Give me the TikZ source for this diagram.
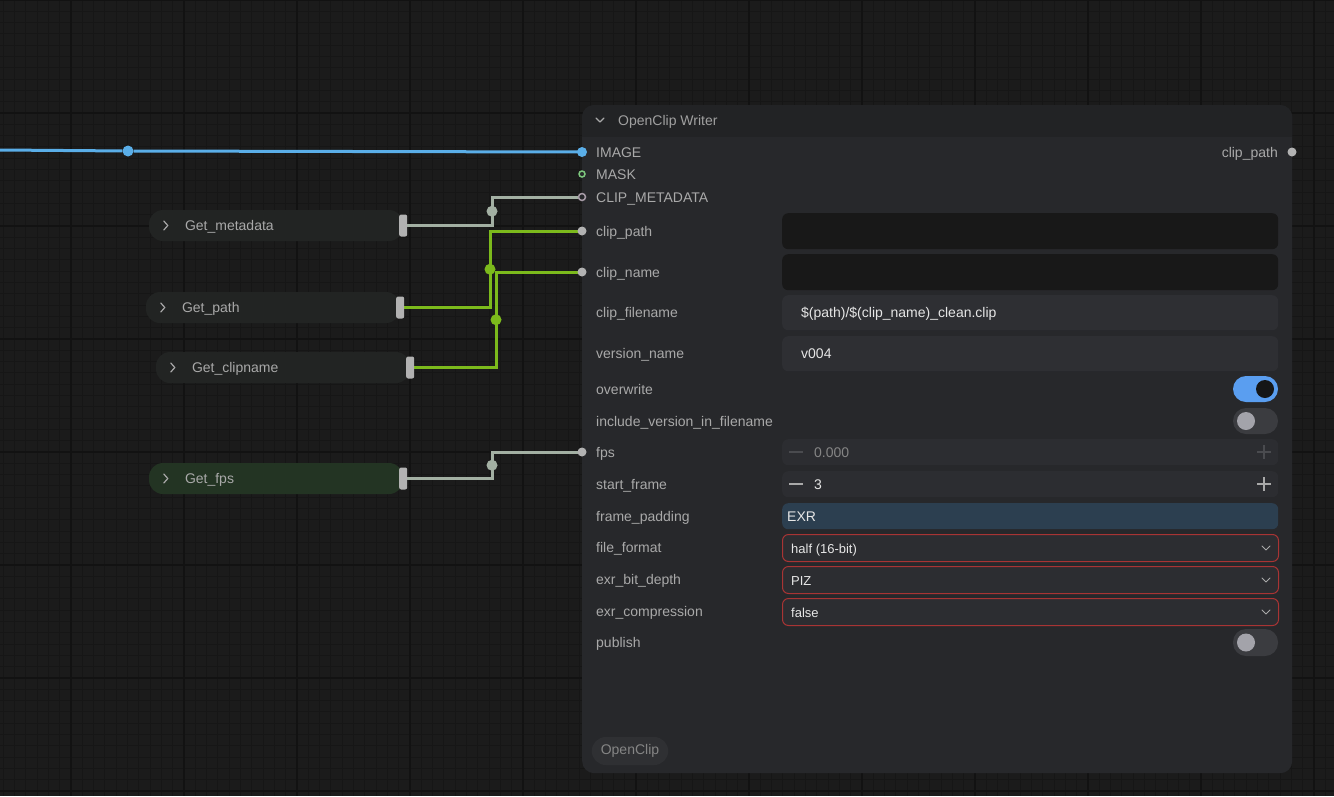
\documentclass[tikz,border=0pt]{standalone}
\usepackage{fontspec}
\setmainfont{Liberation Sans}
\usetikzlibrary{positioning,calc}

\definecolor{canvas}{HTML}{1B1B1B}
\definecolor{gridminor}{HTML}{161616}
\definecolor{gridmajor}{HTML}{121212}
\definecolor{nodebody}{HTML}{27282B}
\definecolor{nodehead}{HTML}{222325}
\definecolor{pillgrey}{HTML}{222423}
\definecolor{pillgreen}{HTML}{233423}
\definecolor{handlegrey}{HTML}{B2B2B2}
\definecolor{labelgrey}{HTML}{A9A9A9}
\definecolor{valuewhite}{HTML}{E6E6E6}
\definecolor{dimgrey}{HTML}{858585}
\definecolor{inkbox}{HTML}{181818}
\definecolor{fieldgrey}{HTML}{2E2F33}
\definecolor{numgrey}{HTML}{2C2D31}
\definecolor{padblue}{HTML}{2C3F50}
\definecolor{combored}{HTML}{A83434}
\definecolor{toggleon}{HTML}{5A9EF0}
\definecolor{toggleoff}{HTML}{3B3C40}
\definecolor{knobdark}{HTML}{151617}
\definecolor{knobgrey}{HTML}{A3A3AA}
\definecolor{badgegrey}{HTML}{2F3033}
\definecolor{linkblue}{HTML}{5AAEE8}
\definecolor{linkgrey}{HTML}{A3B0A3}
\definecolor{linkgreen}{HTML}{7CBA1C}
\definecolor{maskgreen}{HTML}{7DC67D}
\definecolor{metaring}{HTML}{A89CA8}
\definecolor{pmdim}{HTML}{4A4B4F}

\tikzset{
    slot/.style={anchor=west, inner sep=0pt, text height=10pt, text depth=0pt,
        font=\fontsize{14}{16}\selectfont, text=labelgrey},
    val/.style={slot, text=valuewhite},
    pill/.style={fill=#1, rounded corners=14pt, minimum width=254pt,
        minimum height=31pt, inner sep=0pt},
    handle/.style={fill=handlegrey, rounded corners=2pt, minimum width=8pt,
        minimum height=22pt, inner sep=0pt},
    field/.style={fill=#1, rounded corners=6pt, minimum width=496pt,
        anchor=north west, inner sep=0pt},
    combo/.style={field=numgrey, draw=combored, line width=1pt, minimum height=27pt},
    link/.style={line width=3pt, draw=#1},
    knot/.style={circle, fill=#1, minimum size=11pt, inner sep=0pt},
    sock/.style={circle, fill=#1, minimum size=9pt, inner sep=0pt},
    chev/.style={draw=#1, line width=1.2pt, line cap=round, line join=round},
    pm/.style={draw=#1, line width=1.4pt}
}

\begin{document}
\begin{tikzpicture}[x=1pt, y=-1pt]
    \useasboundingbox (0,0) rectangle (1334,796);
    % canvas and grid
    \fill[canvas] (0,0) rectangle (1334,796);
    \foreach \i in {0,...,118}
        \draw[gridminor, line width=1pt] (\i*11.3+3.2,0) -- ++(0,796);
    \foreach \i in {0,...,71}
        \draw[gridminor, line width=1pt] (0,\i*11.3) -- ++(1334,0);
    \foreach \i in {0,...,11}
        \draw[gridmajor, line width=2pt] (\i*113+71,0) -- ++(0,796);
    \foreach \i in {0,...,7}
        \draw[gridmajor, line width=2pt] (0,\i*113) -- ++(1334,0);

    % writer node
    \node[fill=nodebody, rounded corners=12pt, minimum width=710pt, minimum height=668pt,
        anchor=north west, inner sep=0pt] (writer) at (582,105) {};
    \begin{scope}
        \clip (582,105) rectangle (1292,136);
        \fill[nodehead, rounded corners=12pt] (582,105) rectangle (1292,160);
    \end{scope}
    \draw[chev=labelgrey] (596,118) -- (600,122) -- (604,118);
    \node[slot, text=labelgrey!110] (title) at (618,120) {OpenClip Writer};

    % input sockets
    \coordinate (in-image) at (582,152);
    \coordinate (in-mask)  at (582,174);
    \coordinate (in-meta)  at (582,197);
    \coordinate (in-path)  at (582,231);
    \coordinate (in-name)  at (582,272);
    \coordinate (in-fps)   at (582,452);
    \coordinate (out-path) at (1292,152);

    % left nodes
    \node[pill=pillgrey]  (gmeta) at (276,225.5) {};
    \node[pill=pillgrey]  (gpath) at (273,307.5) {};
    \node[pill=pillgrey]  (gname) at (283,367.5) {};
    \node[pill=pillgreen] (gfps)  at (276,478.5) {};
    \node[slot, right=36pt of gmeta.west] (tmeta) {Get\_metadata};
    \node[slot, right=36pt of gpath.west] (tpath) {Get\_path};
    \node[slot, right=36pt of gname.west] (tname) {Get\_clipname};
    \node[slot, right=36pt of gfps.west]  (tfps)  {Get\_fps};
    \foreach \n in {gmeta,gpath,gname,gfps}
        \draw[chev=labelgrey] ([xshift=15pt]\n.west) ++(0,-4.5) -- ++(4,4.5) -- ++(-4,4.5);

    % links
    \coordinate (src) at (0,150);
    \coordinate (k1) at (492,0);
    \coordinate (k2) at (490,0);
    \coordinate (k3) at (496,0);
    \node[knot=linkblue] (kimg) at (128,151) {};
    \draw[link=linkblue] (src) -- (kimg) -- (in-image);
    \draw[link=linkgrey]  (gmeta.east) -- (gmeta.east -| k1) |- (in-meta);
    \draw[link=linkgreen] (gpath.east) -- (gpath.east -| k2) |- (in-path);
    \draw[link=linkgreen] (gname.east) -- (gname.east -| k3) |- (in-name);
    \draw[link=linkgrey]  (gfps.east)  -- (gfps.east -| k1)  |- (in-fps);
    \node[knot=linkgrey]  (kmeta) at ($(gmeta.east -| k1)!0.5!(in-meta -| k1)$) {};
    \node[knot=linkgreen] (kpath) at ($(gpath.east -| k2)!0.5!(in-path -| k2)$) {};
    \node[knot=linkgreen] (kname) at ($(gname.east -| k3)!0.5!(in-name -| k3)$) {};
    \node[knot=linkgrey]  (kfps)  at ($(gfps.east -| k1)!0.5!(in-fps -| k1)$) {};

    \node[handle] (hmeta) at (gmeta.east) {};
    \node[handle] (hpath) at (gpath.east) {};
    \node[handle] (hname) at (gname.east) {};
    \node[handle] (hfps)  at (gfps.east)  {};

    % sockets
    \node[sock=linkblue, minimum size=10pt] (simg) at (in-image) {};
    \node[circle, draw=maskgreen, fill=nodebody, line width=1.5pt, minimum size=6pt,
        inner sep=0pt] (smask) at (in-mask) {};
    \node[circle, draw=metaring, fill=nodebody, line width=1.5pt, minimum size=7pt,
        inner sep=0pt] (smeta) at (in-meta) {};
    \node[sock=handlegrey] (spath) at (in-path) {};
    \node[sock=handlegrey] (sname) at (in-name) {};
    \node[sock=handlegrey] (sfps)  at (in-fps)  {};
    \node[sock=handlegrey] (sout)  at (out-path) {};

    % slot labels
    \node[slot] (limg)  at (596,152) {IMAGE};
    \node[slot] (lmask) at (596,174) {MASK};
    \node[slot] (lmeta) at (596,197) {CLIP\_METADATA};
    \node[slot, anchor=east] (lout) at (1278,152) {clip\_path};
    \node[slot] (lpath) at (596,231) {clip\_path};
    \node[slot] (lname) at (596,272) {clip\_name};
    \node[slot] (lfile) at (596,312) {clip\_filename};
    \node[slot] (lver)  at (596,353) {version\_name};
    \node[slot] (lover) at (596,389) {overwrite};
    \node[slot] (linc)  at (596,421) {include\_version\_in\_filename};
    \node[slot] (lfps)  at (596,452) {fps};
    \node[slot] (lstart) at (596,484) {start\_frame};
    \node[slot] (lpad)  at (596,516) {frame\_padding};
    \node[slot] (lfmt)  at (596,547) {file\_format};
    \node[slot] (ldep)  at (596,579) {exr\_bit\_depth};
    \node[slot] (lcmp)  at (596,611) {exr\_compression};
    \node[slot] (lpub)  at (596,642) {publish};

    % widgets
    \node[field=inkbox, minimum height=36pt] (wpath) at (782,213) {};
    \node[field=inkbox, minimum height=36pt] (wname) at (782,254) {};
    \node[field=fieldgrey, minimum height=35pt] (wfile) at (782,295) {};
    \node[val, right=19pt of wfile.west] (vfile) {\$(path)/\$(clip\_name)\_clean.clip};
    \node[field=fieldgrey, minimum height=35pt] (wver) at (782,336) {};
    \node[val, right=19pt of wver.west] (vver) {v004};

    \fill[toggleon, rounded corners=13pt] (1233,376) rectangle (1278,402);
    \fill[knobdark] (1265,389) circle (9);
    \fill[toggleoff, rounded corners=13pt] (1233,408) rectangle (1278,434);
    \fill[knobgrey] (1246,421) circle (9);

    \node[field=numgrey, minimum height=26pt] (wfps) at (782,439) {};
    \draw[pm=pmdim] (789,452) -- (803,452);
    \draw[pm=pmdim] (1257,452) -- (1271,452) (1264,445) -- (1264,459);
    \node[slot, text=dimgrey, right=32pt of wfps.west] (vfps) {0.000};

    \node[field=numgrey, minimum height=26pt] (wstart) at (782,471) {};
    \draw[pm=labelgrey] (789,484) -- (803,484);
    \draw[pm=labelgrey] (1257,484) -- (1271,484) (1264,477) -- (1264,491);
    \node[val, right=32pt of wstart.west] (vstart) {3};

    \node[field=padblue, minimum height=26pt] (wpad) at (782,503) {};
    \node[val, right=5pt of wpad.west] (vpad) {EXR};

    \node[combo] (wfmt) at (782,534) {};
    \node[combo] (wdep) at (782,566) {};
    \node[combo] (wcmp) at (782,598) {};
    \node[val, font=\fontsize{13}{15}\selectfont, right=9pt of wfmt.west] (vfmt) {half (16-bit)};
    \node[val, font=\fontsize{13}{15}\selectfont, right=9pt of wdep.west] (vdep) {PIZ};
    \node[val, font=\fontsize{13}{15}\selectfont, right=9pt of wcmp.west] (vcmp) {false};
    \foreach \w in {wfmt,wdep,wcmp}
        \draw[chev=labelgrey, line width=1pt] ([xshift=-17pt,yshift=2pt]\w.east) -- ++(4,4) -- ++(4,-4);

    \fill[toggleoff, rounded corners=13pt] (1233,629) rectangle (1278,656);
    \fill[knobgrey] (1246,642.5) circle (9);

    % badge
    \node[fill=badgegrey, rounded corners=14pt, minimum height=28pt, inner xsep=9pt,
        inner ysep=0pt, text=dimgrey, font=\fontsize{14}{16}\selectfont] (tag) at (630,751) {OpenClip};
\end{tikzpicture}
\end{document}
